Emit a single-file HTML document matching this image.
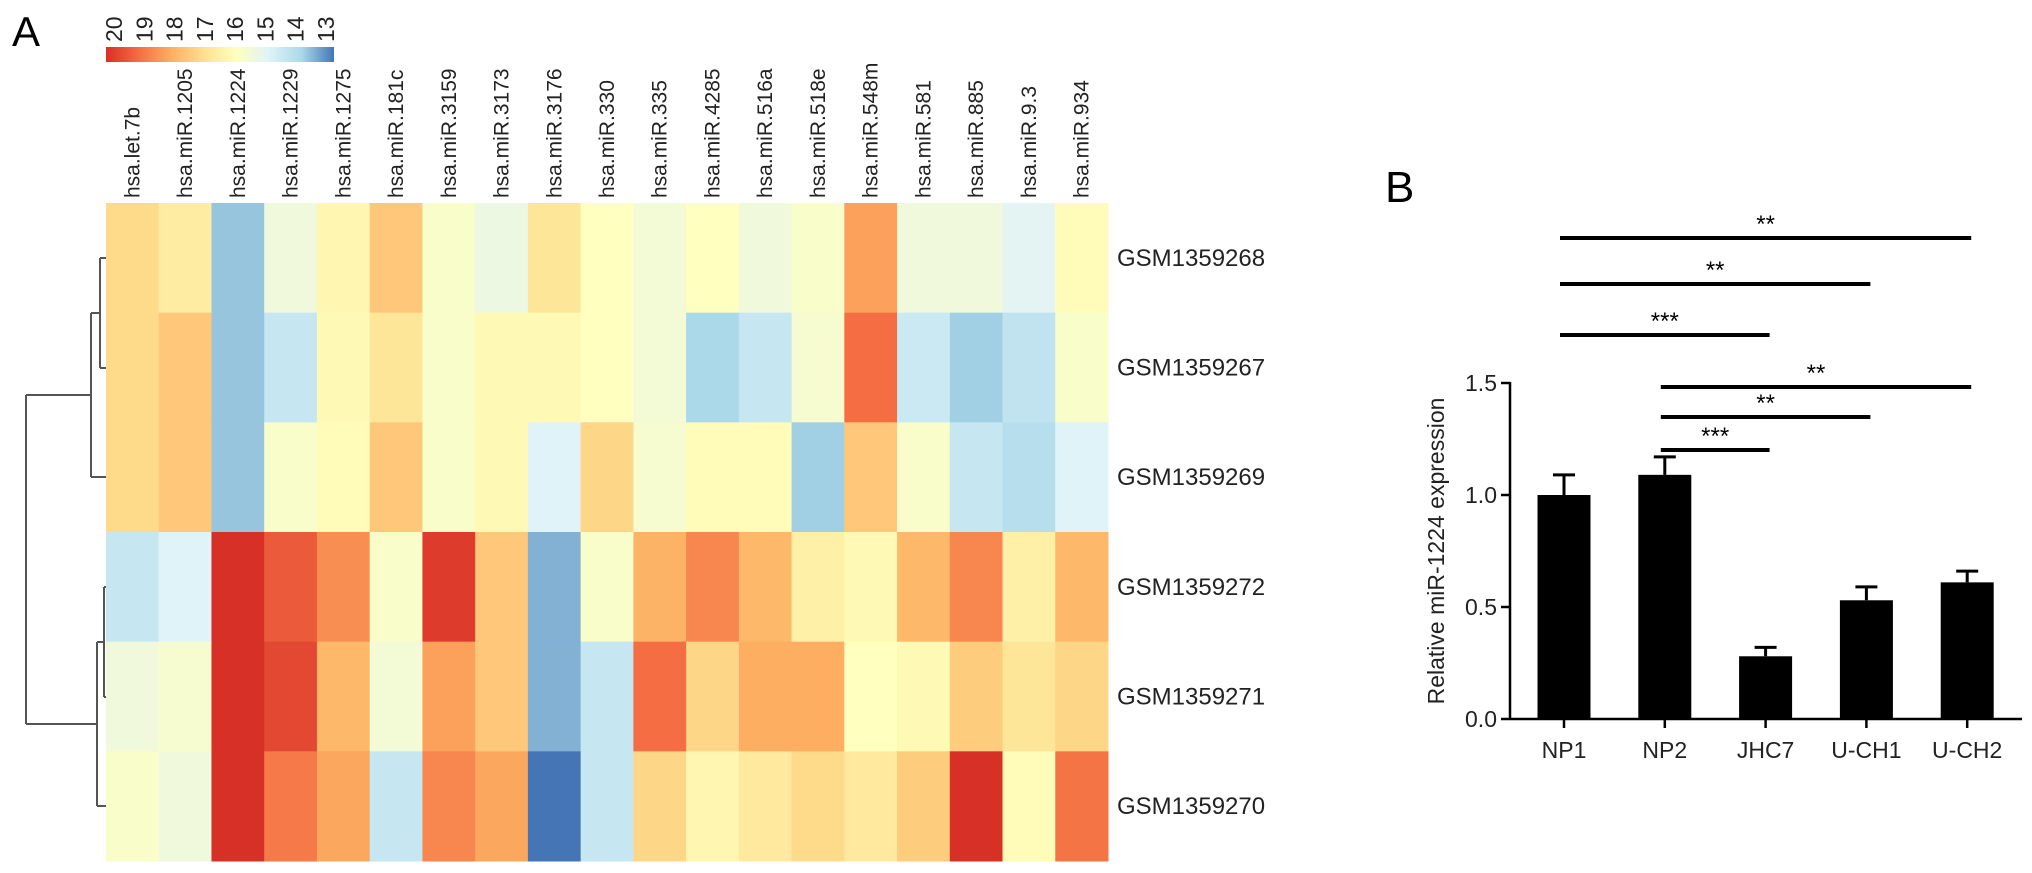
<!DOCTYPE html>
<html><head><meta charset="utf-8">
<style>
html,body{margin:0;padding:0;background:#fff;}
svg{display:block;font-family:"Liberation Sans",sans-serif;}
</style></head>
<body>
<svg id="fig" width="2032" height="873" viewBox="0 0 2032 873">
<text x="12" y="46" font-size="42">A</text>
<defs><linearGradient id="cb" x1="0" x2="1" y1="0" y2="0">
<stop offset="0" stop-color="#d73027"/><stop offset="0.143" stop-color="#f46d43"/><stop offset="0.286" stop-color="#fdae61"/><stop offset="0.429" stop-color="#fee090"/><stop offset="0.571" stop-color="#ffffbf"/><stop offset="0.714" stop-color="#e0f3f8"/><stop offset="0.857" stop-color="#abd9e9"/><stop offset="1" stop-color="#4575b4"/></linearGradient></defs>
<rect x="106" y="47" width="228" height="15" fill="url(#cb)"/>
<g id="cbticks"></g>
<g id="heat"></g>
<g id="dendro" stroke="#555" stroke-width="2" fill="none">
<path d="M100 258 V368 M100 258 H106 M100 368 H106"/>
<path d="M91 313 V477 M91 313 H100 M91 477 H106"/>
<path d="M104 587 V697 M104 587 H106 M104 697 H106"/>
<path d="M97 642 V806 M97 642 H104 M97 806 H106"/>
<path d="M26 395 V724 M26 395 H91 M26 724 H97"/>
</g>
<text x="1385" y="202" font-size="44">B</text>
<g id="bar"></g>
</svg>
<script>
const NS="http://www.w3.org/2000/svg";
function mk(t,a,p){const e=document.createElementNS(NS,t);for(const k in a)e.setAttribute(k,a[k]);p.appendChild(e);return e;}
// heatmap data
const mirnas=["hsa.let.7b","hsa.miR.1205","hsa.miR.1224","hsa.miR.1229","hsa.miR.1275","hsa.miR.181c","hsa.miR.3159","hsa.miR.3173","hsa.miR.3176","hsa.miR.330","hsa.miR.335","hsa.miR.4285","hsa.miR.516a","hsa.miR.518e","hsa.miR.548m","hsa.miR.581","hsa.miR.885","hsa.miR.9.3","hsa.miR.934"];
const samples=["GSM1359268","GSM1359267","GSM1359269","GSM1359272","GSM1359271","GSM1359270"];
const row268=[17.1,16.6,13.8,15.5,16.3,17.5,15.8,15.4,16.8,16.0,15.6,16.0,15.5,15.8,18.2,15.5,15.5,15.1,16.1];
const row267=[17.1,17.5,13.8,14.5,16.2,16.8,15.8,16.2,16.2,16.0,15.6,14.0,14.5,15.7,19.0,14.6,13.9,14.4,15.8];
const row269=[17.1,17.5,13.8,15.8,16.1,17.5,15.8,16.2,15.0,17.2,15.7,16.1,16.1,13.9,17.5,15.8,14.5,14.2,15.0];
const row272=[14.5,15.0,20.0,19.3,18.5,15.8,19.8,17.5,13.6,15.8,17.9,18.6,17.8,16.5,16.2,17.8,18.6,16.5,17.8];
const row271=[15.5,15.7,20.0,19.6,17.8,15.6,18.2,17.5,13.6,14.5,19.0,17.2,18.0,18.0,16.0,16.2,17.4,16.8,17.2];
const row270=[15.8,15.5,20.0,18.8,18.1,14.5,18.6,18.1,13.0,14.5,17.2,16.3,16.7,17.1,16.7,17.4,20.0,16.1,18.9];
const rows=[row268,row267,row269,row272,row271,row270];
const cbTicks=[20,19,18,17,16,15,14,13];
// bar chart data
const groups=["NP1","NP2","JHC7","U-CH1","U-CH2"];
const means=[1.0,1.09,0.28,0.53,0.61];
const errs=[0.09,0.08,0.04,0.06,0.05];
const yTicks=[0.0,0.5,1.0,1.5];
const sigFrom=[0,0,0,1,1,1];
const sigTo=[4,3,2,4,3,2];
const sigLabel=["**","**","***","**","**","***"];

const stops=[[215,48,39],[244,109,67],[253,174,97],[254,224,144],[255,255,191],[224,243,248],[171,217,233],[69,117,180]];
function col(v){let t=(20-v);t=Math.max(0,Math.min(7,t));const i=Math.min(6,Math.floor(t)),f=t-i;const a=stops[i],b=stops[i+1];
return "rgb("+a.map((c,k)=>Math.round(c+(b[k]-c)*f)).join(",")+")";}
const hx0=106,hx1=1108,hy0=203,hy1=861;
const cw=(hx1-hx0)/mirnas.length,rh=(hy1-hy0)/samples.length;
const cbx=i=>106+228*(i/(cbTicks.length-1))*0.93+8;
const heat=document.getElementById('heat');
rows.forEach((r,ri)=>r.forEach((v,ci)=>{
 const c=mk('rect',{x:hx0+ci*cw,y:hy0+ri*rh,width:cw+0.5,height:rh+0.5,fill:col(v)},heat);
 
 
}));
mirnas.forEach((m,ci)=>{const x=hx0+ci*cw+cw/2+7;
 const t=mk('text',{x:x,y:198,'font-size':21,fill:'#222',transform:`rotate(-90 ${x} 198)`},heat);t.textContent=m;
 
 });
samples.forEach((s,ri)=>{const t=mk('text',{x:1117,y:hy0+ri*rh+rh/2+8,'font-size':24,fill:'#222'},heat);t.textContent=s;
 
 });
const cbt=document.getElementById('cbticks');
cbTicks.forEach((v,i)=>{const x=cbx(i)+8;const t=mk('text',{x:x,y:42,'font-size':23,fill:'#222',transform:`rotate(-90 ${x} 42)`},cbt);t.textContent=v;
 
 });
// bar chart
const bar=document.getElementById('bar');
const ax0=1510,ay0=719;
const yS=v=>ay0-224*v;
const xS=i=>1564+100.8*i;
mk('line',{x1:ax0,y1:yS(1.5)-1,x2:ax0,y2:ay0+1,stroke:'#000','stroke-width':2.5},bar);
mk('line',{x1:ax0,y1:ay0,x2:2022,y2:ay0,stroke:'#000','stroke-width':2.5},bar);
yTicks.forEach(v=>{mk('line',{x1:ax0-9,y1:yS(v),x2:ax0,y2:yS(v),stroke:'#000','stroke-width':2.5},bar);
 const t=mk('text',{x:ax0-13,y:yS(v)+8,'font-size':23,'text-anchor':'end',fill:'#222'},bar);t.textContent=v.toFixed(1);
 
 });
const yt=mk('text',{x:1444,y:551,'font-size':23,'text-anchor':'middle',fill:'#222',transform:'rotate(-90 1444 551)'},bar);
yt.textContent="Relative miR-1224 expression";


groups.forEach((g,i)=>{const x=xS(i),bw=53;
 const r=mk('rect',{x:x-bw/2,y:yS(means[i]),width:bw,height:ay0-yS(means[i]),fill:'#000'},bar);
 
 
 const top=yS(means[i]+errs[i]);
 const e=mk('path',{d:`M${x} ${yS(means[i])} V${top} M${x-11} ${top} H${x+11}`,stroke:'#000','stroke-width':3,fill:'none'},bar);
 
 
 mk('line',{x1:x,y1:ay0,x2:x,y2:ay0+9,stroke:'#000','stroke-width':2.5},bar);
 const t=mk('text',{x:x,y:758,'font-size':23,'text-anchor':'middle',fill:'#222'},bar);t.textContent=g;
 
 });
const sigY=[238,284,335,387,417,450];
sigFrom.forEach((a,k)=>{const x1=xS(a)-4,x2=xS(sigTo[k])+4;
 const l=mk('line',{x1:x1,y1:sigY[k],x2:x2,y2:sigY[k],stroke:'#000','stroke-width':4},bar);
 
 
 const t=mk('text',{x:(x1+x2)/2,y:sigY[k]-6,'font-size':24,'text-anchor':'middle',fill:'#000'},bar);t.textContent=sigLabel[k];
 
 });
</script>
</body></html>
